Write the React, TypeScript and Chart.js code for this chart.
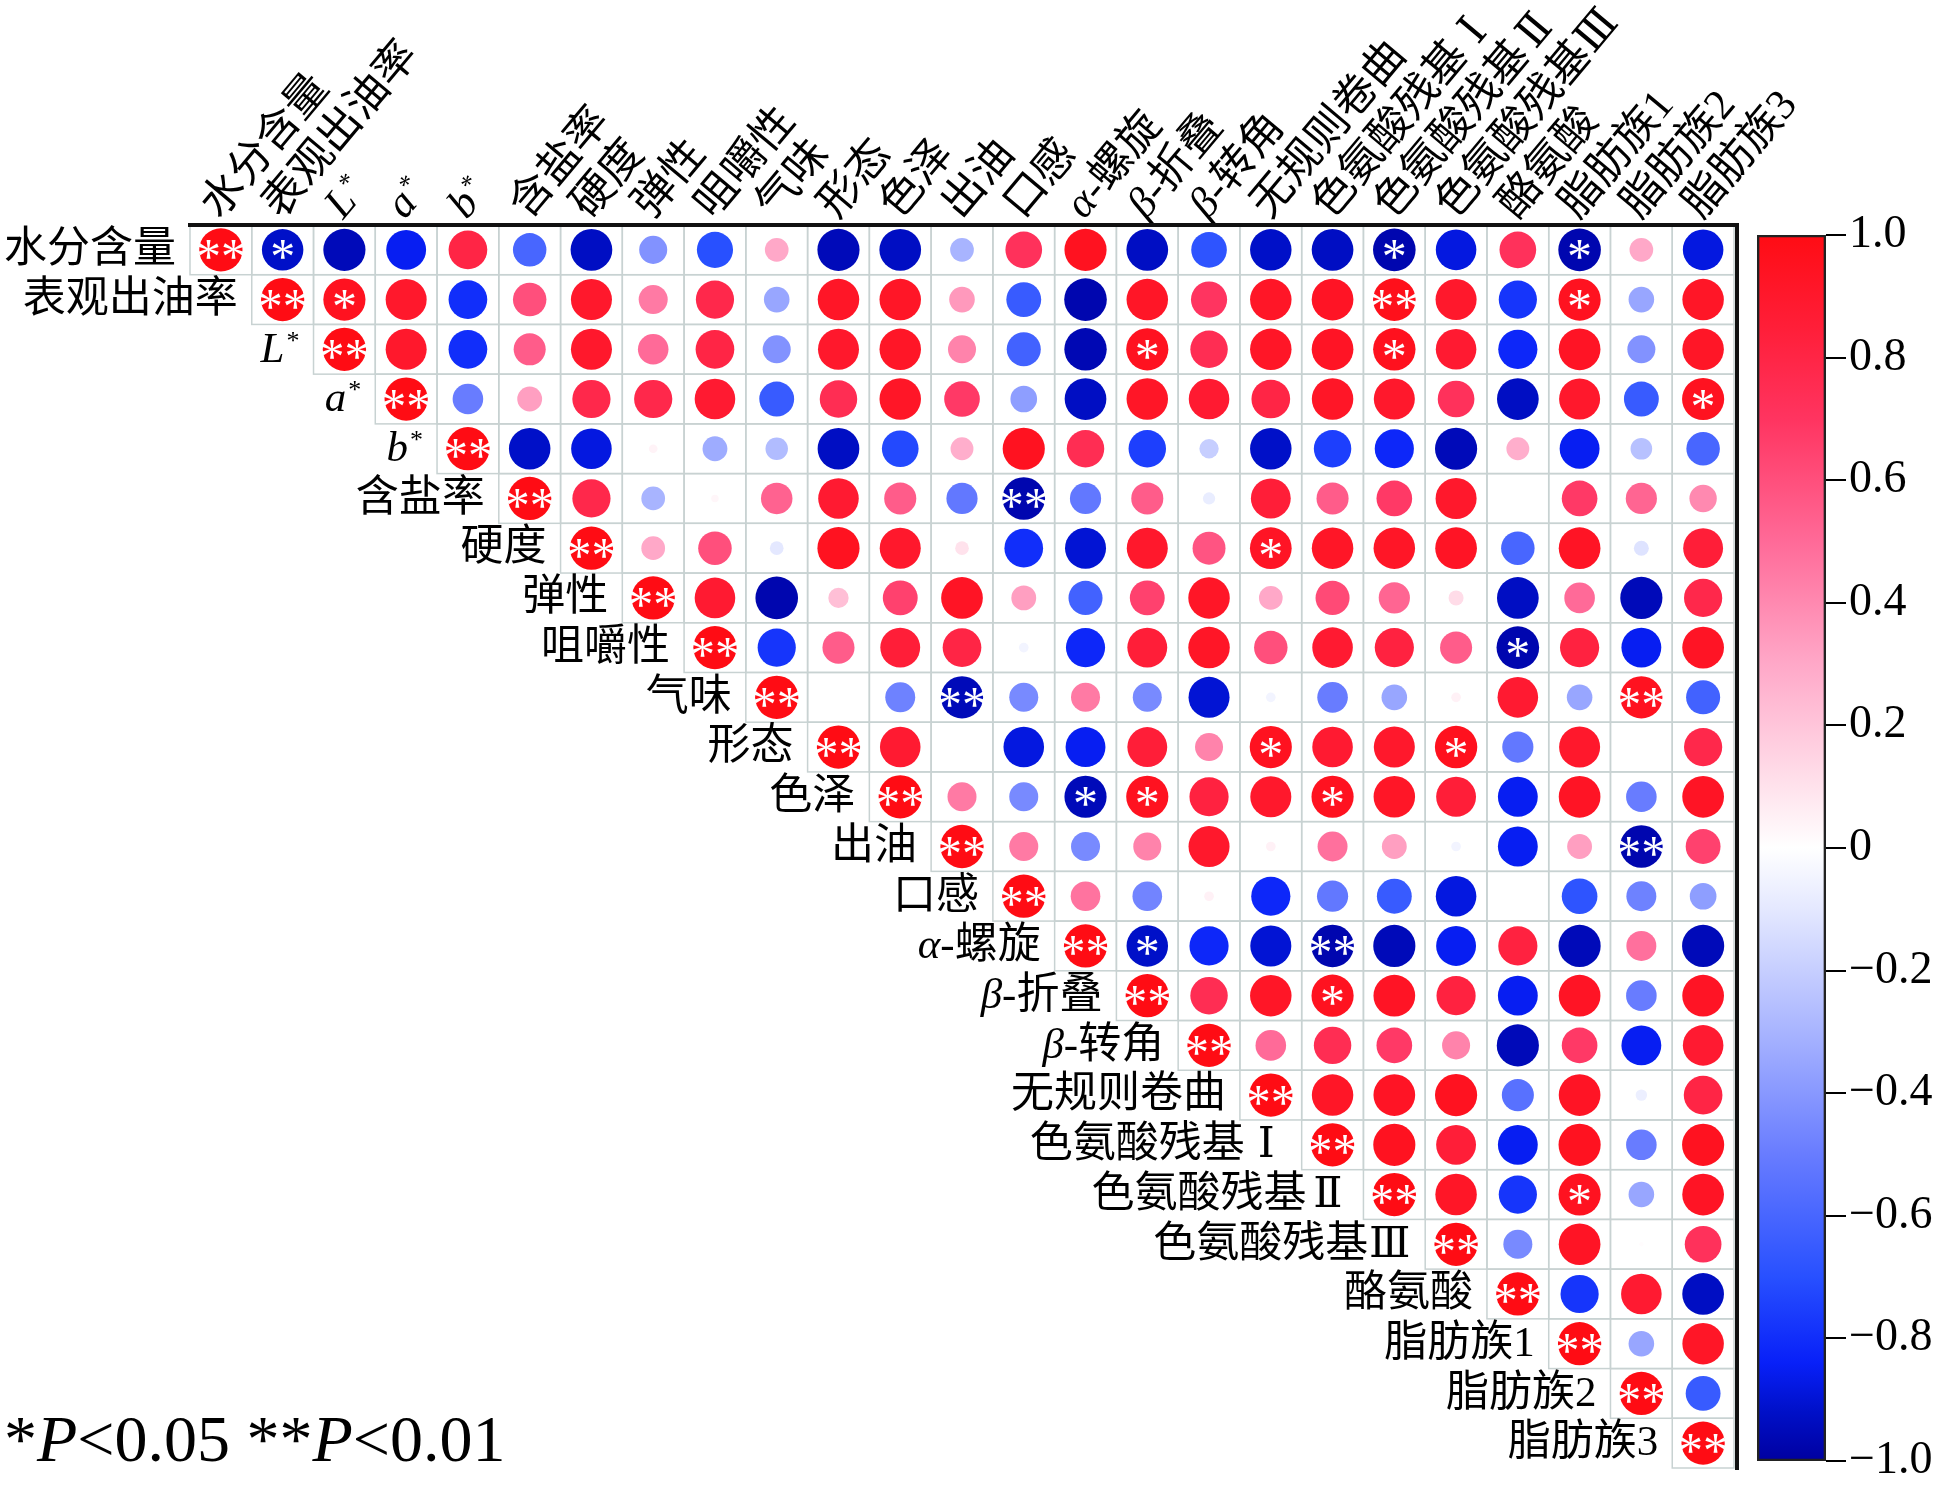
import React, { useEffect, useRef } from 'react';
import { Chart, registerables } from 'chart.js';

Chart.register(...registerables);

// ---------------- data ----------------
const VARIABLES = [
  '水分含量', '表观出油率', 'L*', 'a*', 'b*', '含盐率', '硬度', '弹性', '咀嚼性', '气味',
  '形态', '色泽', '出油', '口感', 'α-螺旋', 'β-折叠', 'β-转角', '无规则卷曲',
  '色氨酸残基Ⅰ', '色氨酸残基Ⅱ', '色氨酸残基Ⅲ', '酪氨酸', '脂肪族1', '脂肪族2', '脂肪族3',
];

// upper triangle: row i holds r(i, j) for j = i .. 24
const CORR: number[][] = [
  [1, -0.92, -0.95, -0.85, 0.8, -0.6, -0.93, -0.42, -0.7, 0.3, -0.95, -0.93, -0.3, 0.72, 0.95, -0.93, -0.68, -0.92, -0.93, -0.97, -0.88, 0.72, -0.97, 0.3, -0.88],
  [1, 0.95, 0.9, -0.8, 0.6, 0.9, 0.45, 0.78, -0.35, 0.92, 0.92, 0.35, -0.65, -0.97, 0.92, 0.7, 0.92, 0.93, 0.97, 0.9, -0.78, 0.95, -0.35, 0.92],
  [1, 0.9, -0.8, 0.55, 0.9, 0.5, 0.8, -0.42, 0.9, 0.92, 0.42, -0.62, -0.96, 0.95, 0.75, 0.92, 0.93, 0.96, 0.88, -0.82, 0.93, -0.42, 0.92],
  [1, -0.5, 0.33, 0.78, 0.78, 0.88, -0.65, 0.75, 0.92, 0.68, -0.38, -0.93, 0.92, 0.88, 0.8, 0.92, 0.9, 0.72, -0.93, 0.9, -0.65, 0.95],
  [1, -0.92, -0.88, 0.04, -0.33, -0.27, -0.93, -0.72, 0.28, 0.95, 0.75, -0.75, -0.2, -0.92, -0.75, -0.82, -0.95, 0.28, -0.85, -0.25, -0.6],
  [1, 0.78, -0.3, 0.03, 0.53, 0.88, 0.55, -0.52, -0.97, -0.52, 0.55, -0.08, 0.85, 0.55, 0.68, 0.9, 0, 0.68, 0.52, 0.4],
  [1, 0.3, 0.6, -0.1, 0.95, 0.9, 0.1, -0.8, -0.9, 0.9, 0.58, 0.93, 0.92, 0.92, 0.93, -0.6, 0.93, -0.12, 0.85],
  [1, 0.88, -0.97, 0.22, 0.65, 0.93, 0.33, -0.62, 0.65, 0.92, 0.3, 0.62, 0.52, 0.12, -0.93, 0.5, -0.95, 0.78],
  [1, -0.78, 0.55, 0.85, 0.8, -0.05, -0.82, 0.85, 0.92, 0.6, 0.88, 0.82, 0.55, -0.97, 0.82, -0.85, 0.93],
  [1, 0, -0.48, -0.95, -0.45, 0.45, -0.45, -0.9, -0.05, -0.5, -0.35, 0.05, 0.88, -0.35, 0.95, -0.62],
  [1, 0.88, 0, -0.88, -0.85, 0.85, 0.42, 0.95, 0.88, 0.9, 0.96, -0.52, 0.9, 0, 0.78],
  [1, 0.45, -0.45, -0.95, 0.95, 0.82, 0.9, 0.95, 0.92, 0.85, -0.85, 0.93, -0.5, 0.93],
  [1, 0.45, -0.45, 0.42, 0.9, 0.05, 0.48, 0.33, -0.05, -0.85, 0.33, -0.97, 0.65],
  [1, 0.47, -0.47, 0.05, -0.82, -0.52, -0.65, -0.88, 0, -0.68, -0.48, -0.38],
  [1, -0.92, -0.82, -0.9, -0.97, -0.95, -0.85, 0.82, -0.95, 0.48, -0.95],
  [1, 0.75, 0.92, 0.95, 0.93, 0.82, -0.85, 0.93, -0.5, 0.93],
  [1, 0.5, 0.75, 0.68, 0.42, -0.95, 0.68, -0.85, 0.88],
  [1, 0.92, 0.93, 0.95, -0.55, 0.93, -0.07, 0.8],
  [1, 0.95, 0.85, -0.85, 0.95, -0.5, 0.95],
  [1, 0.92, -0.78, 0.95, -0.35, 0.93],
  [1, -0.45, 0.93, 0.01, 0.72],
  [1, -0.78, 0.88, -0.93],
  [1, -0.35, 0.92],
  [1, -0.65],
  [1],
];

// off-diagonal significance marks [row, col, mark]; the diagonal is always "**"
const SIGNIFICANCE: [number, number, string][] = [
  [0, 1, '*'], [0, 19, '*'], [0, 22, '*'],
  [1, 2, '*'], [1, 19, '**'], [1, 22, '*'],
  [2, 15, '*'], [2, 19, '*'],
  [3, 24, '*'],
  [5, 13, '**'],
  [6, 17, '*'],
  [8, 21, '*'],
  [9, 12, '**'], [9, 23, '**'],
  [10, 17, '*'], [10, 20, '*'],
  [11, 14, '*'], [11, 15, '*'], [11, 18, '*'],
  [12, 23, '**'],
  [14, 15, '*'], [14, 18, '**'],
  [15, 18, '*'],
  [19, 22, '*'],
];

const COLORBAR_TICKS = [-1, -0.8, -0.6, -0.4, -0.2, 0, 0.2, 0.4, 0.6, 0.8, 1];
const NOTE_PARTS = ['*', 'P', '<0.05 **', 'P', '<0.01'];

// ---------------- styles ----------------
const COLOR_STOPS: [number, number[]][] = [
  [-1, [0, 0, 160]],
  [-0.92, [0, 16, 200]],
  [-0.84, [8, 32, 248]],
  [-0.7, [40, 80, 255]],
  [-0.5, [104, 124, 255]],
  [-0.3, [168, 180, 255]],
  [-0.1, [228, 232, 255]],
  [0, [255, 255, 255]],
  [0.1, [255, 226, 236]],
  [0.3, [255, 168, 200]],
  [0.5, [255, 106, 152]],
  [0.7, [255, 52, 96]],
  [0.85, [255, 30, 56]],
  [1, [255, 12, 20]],
];

function corrColor(v: number): string {
  const x = Math.max(-1, Math.min(1, v));
  for (let k = 0; k < COLOR_STOPS.length - 1; k++) {
    const [a, ca] = COLOR_STOPS[k];
    const [b, cb] = COLOR_STOPS[k + 1];
    if (x >= a && x <= b) {
      const t = (x - a) / (b - a);
      const c = ca.map((q, n) => Math.round(q + (cb[n] - q) * t));
      return `rgb(${c[0]},${c[1]},${c[2]})`;
    }
  }
  return '#fff';
}

const SERIF = '"Liberation Serif", "DejaVu Serif", "Noto Sans CJK SC", serif';
const LABEL_SIZE = 43;

type Part = { t: string; it?: boolean; sup?: boolean; fw?: boolean };

function parseLabel(s: string): Part[] {
  if (/^[Lab]\*$/.test(s)) return [{ t: s[0], it: true }, { t: '*', sup: true }];
  if (/^[αβ]-/.test(s)) return [{ t: s[0], it: true }, { t: s.slice(1) }];
  const m = s.match(/^(.*?)([ⅠⅡⅢ])$/);
  if (m) return [{ t: m[1] }, { t: m[2], fw: true }];
  return [{ t: s }];
}

function partFont(p: Part, size: number) {
  const sz = p.sup ? Math.round(size * 0.6) : size;
  return `${p.it ? 'italic ' : ''}${sz}px ${SERIF}`;
}

function drawParts(ctx: CanvasRenderingContext2D, parts: Part[], x: number, y: number, size: number, align: 'left' | 'right') {
  const glyphW = parts.map((p) => {
    ctx.font = partFont(p, size);
    return ctx.measureText(p.t).width;
  });
  const boxW = parts.map((p, k) => (p.fw ? Math.max(size, glyphW[k]) : glyphW[k] + (p.sup ? 2 : 0)));
  const total = boxW.reduce((a, b) => a + b, 0);
  let cx = align === 'right' ? x - total : x;
  ctx.textAlign = 'left';
  parts.forEach((p, k) => {
    ctx.font = partFont(p, size);
    const off = p.fw ? (boxW[k] - glyphW[k]) / 2 : p.sup ? 2 : 0;
    ctx.fillText(p.t, cx + off, p.sup ? y - size * 0.2 : y);
    cx += boxW[k];
  });
}

const gridPlugin = {
  id: 'cellGrid',
  beforeDatasetsDraw(chart: any) {
    const { ctx } = chart;
    const xs = chart.scales.x;
    const ys = chart.scales.y;
    ctx.save();
    ctx.strokeStyle = '#c8d2d2';
    ctx.lineWidth = 1.5;
    for (let i = 0; i < VARIABLES.length; i++) {
      for (let j = i; j < VARIABLES.length; j++) {
        const l = xs.getPixelForValue(j - 0.5);
        const r = xs.getPixelForValue(j + 0.5);
        const t = ys.getPixelForValue(i - 0.5);
        const b = ys.getPixelForValue(i + 0.5);
        ctx.strokeRect(l, t, r - l, b - t);
      }
    }
    ctx.restore();
  },
};

const overlayPlugin = {
  id: 'overlay',
  afterDatasetsDraw(chart: any) {
    const { ctx } = chart;
    const xs = chart.scales.x;
    const ys = chart.scales.y;
    const n = VARIABLES.length;
    ctx.save();

    // significance asterisks
    const marks: [number, number, string][] = [];
    for (let i = 0; i < n; i++) marks.push([i, i, '**']);
    SIGNIFICANCE.forEach((m) => marks.push(m));
    ctx.fillStyle = '#ffffff';
    ctx.font = `50px "Liberation Serif", serif`;
    ctx.textAlign = 'center';
    ctx.textBaseline = 'alphabetic';
    marks.forEach(([i, j, s]) => {
      const cx = xs.getPixelForValue(j);
      const cy = ys.getPixelForValue(i);
      const m = ctx.measureText(s);
      const dy = (m.actualBoundingBoxAscent - m.actualBoundingBoxDescent) / 2;
      ctx.fillText(s, cx, cy + dy);
    });

    // row labels (left of diagonal)
    ctx.fillStyle = '#000';
    ctx.textBaseline = 'middle';
    VARIABLES.forEach((lab, i) => {
      const x = xs.getPixelForValue(i - 0.5) - 14;
      const y = ys.getPixelForValue(i) + 1;
      drawParts(ctx, parseLabel(lab), x, y, LABEL_SIZE, 'right');
    });

    // top labels (rotated)
    const top = ys.getPixelForValue(-0.5);
    VARIABLES.forEach((lab, j) => {
      ctx.save();
      ctx.translate(xs.getPixelForValue(j) - 10, top - 12);
      ctx.rotate((-50 * Math.PI) / 180);
      ctx.textBaseline = 'middle';
      drawParts(ctx, parseLabel(lab), 0, 0, LABEL_SIZE, 'left');
      ctx.restore();
    });

    // thick frame: top and right
    const left = xs.getPixelForValue(-0.5);
    const right = xs.getPixelForValue(n - 0.5);
    const bottom = ys.getPixelForValue(n - 0.5);
    ctx.strokeStyle = '#111';
    ctx.lineWidth = 4;
    ctx.beginPath();
    ctx.moveTo(left - 2, top);
    ctx.lineTo(right + 3, top);
    ctx.moveTo(right + 3, top - 2);
    ctx.lineTo(right + 3, bottom + 2);
    ctx.stroke();

    // significance note
    ctx.fillStyle = '#000';
    ctx.textBaseline = 'alphabetic';
    const noteParts: Part[] = NOTE_PARTS.map((t) => ({ t, it: t === 'P' }));
    drawParts(ctx, noteParts, 4, 1461, 66, 'left');

    ctx.restore();
  },
};

const gradientPlugin = {
  id: 'cbGradient',
  beforeDatasetsDraw(chart: any) {
    const { ctx, chartArea } = chart;
    const ys = chart.scales.y;
    const y0 = ys.getPixelForValue(-1);
    const y1 = ys.getPixelForValue(1);
    if (!isFinite(y0) || !isFinite(y1)) return;
    const g = ctx.createLinearGradient(0, y0, 0, y1);
    COLOR_STOPS.forEach(([v]) => g.addColorStop((v + 1) / 2, corrColor(v)));
    ctx.save();
    ctx.fillStyle = g;
    ctx.fillRect(chartArea.left, y1, chartArea.right - chartArea.left, y0 - y1);
    ctx.restore();
  },
};

function fmtTick(v: number) {
  if (Math.abs(v) < 1e-9) return '0';
  return (v < 0 ? '\u2212' : '') + Math.abs(v).toFixed(1);
}

export default function App() {
  const mainRef = useRef<HTMLCanvasElement>(null);
  const cbRef = useRef<HTMLCanvasElement>(null);

  useEffect(() => {
    const points: { x: number; y: number; v: number }[] = [];
    CORR.forEach((row, i) => row.forEach((v, k) => points.push({ x: i + k, y: i, v })));

    const radiusFn = (c: any) => {
      const raw = c.raw;
      if (!raw) return 0;
      const xs = c.chart.scales.x;
      const ys = c.chart.scales.y;
      const cw = Math.abs(xs.getPixelForValue(1) - xs.getPixelForValue(0));
      const chh = Math.abs(ys.getPixelForValue(1) - ys.getPixelForValue(0));
      const r = 0.435 * Math.min(cw, chh) * Math.sqrt(Math.abs(raw.v));
      return isFinite(r) ? r : 0;
    };

    const main = new Chart(mainRef.current as HTMLCanvasElement, {
      type: 'scatter',
      data: {
        datasets: [
          {
            data: points as any,
            pointRadius: radiusFn as any,
            pointHoverRadius: radiusFn as any,
            backgroundColor: ((c: any) => (c.raw ? corrColor(c.raw.v) : '#fff')) as any,
            borderWidth: 0,
            pointBorderWidth: 0,
          },
        ],
      },
      options: {
        animation: false,
        responsive: false,
        events: [],
        layout: { padding: { left: 190, top: 225, right: 1937 - 1734, bottom: 1487 - 1468 } },
        scales: {
          x: { type: 'linear', min: -0.5, max: VARIABLES.length - 0.5, display: false },
          y: { type: 'linear', min: -0.5, max: VARIABLES.length - 0.5, reverse: true, display: false },
        },
        plugins: { legend: { display: false }, tooltip: { enabled: false } },
      },
      plugins: [gridPlugin, overlayPlugin],
    });

    const cb = new Chart(cbRef.current as HTMLCanvasElement, {
      type: 'bar',
      data: {
        labels: ['r'],
        datasets: [
          {
            data: [[-1, 1]] as any,
            backgroundColor: 'rgba(0,0,0,0)',
            borderColor: '#222',
            borderWidth: 2,
            borderSkipped: false,
            barPercentage: 1,
            categoryPercentage: 1,
          },
        ],
      },
      options: {
        animation: false,
        responsive: false,
        events: [],
        layout: { padding: { left: 17, top: 45, right: 3, bottom: 23 } },
        scales: {
          x: { display: false },
          y: {
            position: 'right',
            min: -1,
            max: 1,
            afterBuildTicks: (s: any) => {
              s.ticks = COLORBAR_TICKS.map((v) => ({ value: v }));
            },
            afterFit: (s: any) => {
              s.width = 108;
            },
            ticks: {
              callback: (v: any) => fmtTick(Number(v)),
              font: { family: 'Liberation Serif', size: 46, lineHeight: 1 },
              color: '#000',
              padding: 3,
            },
            grid: { drawOnChartArea: false, drawTicks: true, tickLength: 20, color: '#000', lineWidth: 2 },
            border: { display: false },
          } as any,
        },
        plugins: { legend: { display: false }, tooltip: { enabled: false } },
      },
      plugins: [gradientPlugin],
    });

    return () => {
      main.destroy();
      cb.destroy();
    };
  }, []);

  return (
    <div style={{ position: 'absolute', left: 0, top: 0, width: 1937, height: 1487, background: '#fff', overflow: 'hidden' }}>
      <canvas ref={mainRef} width={1937} height={1487} style={{ position: 'absolute', left: 0, top: 0 }} />
      <canvas ref={cbRef} width={197} height={1297} style={{ position: 'absolute', left: 1740, top: 190 }} />
    </div>
  );
}
